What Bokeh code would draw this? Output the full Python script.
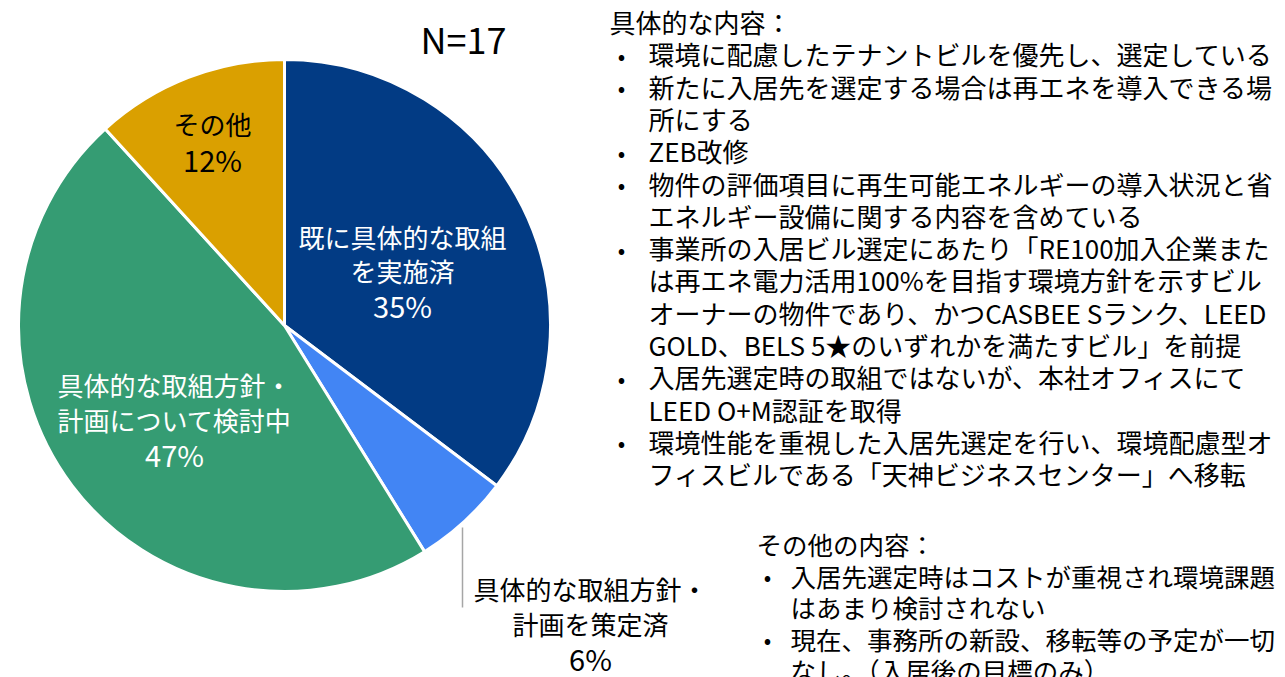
import math
from bokeh.plotting import figure
from bokeh.models import Range1d, ColumnDataSource
from bokeh.core.properties import value
from bokeh.embed import file_html
from bokeh.resources import INLINE

# ---- data ----
categories = ["既に具体的な取組を実施済", "具体的な取組方針・計画を策定済",
              "具体的な取組方針・計画について検討中", "その他"]
counts = [6, 1, 8, 2]
total_n = 17
colors = ["#023B84", "#4285F4", "#359C73", "#DAA000"]
slice_labels = [["既に具体的な取組", "を実施済"],
                ["具体的な取組方針・", "計画を策定済"],
                ["具体的な取組方針・", "計画について検討中"],
                ["その他"]]

detail_title = "具体的な内容："
detail_items = [
    ["環境に配慮したテナントビルを優先し、選定している"],
    ["新たに入居先を選定する場合は再エネを導入できる場", "所にする"],
    ["ZEB改修"],
    ["物件の評価項目に再生可能エネルギーの導入状況と省", "エネルギー設備に関する内容を含めている"],
    ["事業所の入居ビル選定にあたり「RE100加入企業また", "は再エネ電力活用100%を目指す環境方針を示すビル",
     "オーナーの物件であり、かつCASBEE Sランク、LEED", "GOLD、BELS 5★のいずれかを満たすビル」を前提"],
    ["入居先選定時の取組ではないが、本社オフィスにて", "LEED O+M認証を取得"],
    ["環境性能を重視した入居先選定を行い、環境配慮型オ", "フィスビルである「天神ビジネスセンター」へ移転"],
]
other_title = "その他の内容："
other_items = [
    ["入居先選定時はコストが重視され環境課題", "はあまり検討されない"],
    ["現在、事務所の新設、移転等の予定が一切", "なし。（入居後の目標のみ）"],
]

# ---- layout ----
W, H = 1285, 677
FONT = value("Noto Sans CJK JP")

def X(px):
    return px

def Y(py):
    return H - py

p = figure(width=W, height=H, output_backend="svg", toolbar_location=None,
           x_range=Range1d(0, W), y_range=Range1d(0, H), min_border=0)
p.axis.visible = False
p.grid.visible = False
p.outline_line_color = None
p.background_fill_color = "white"
p.border_fill_color = "white"

# pie
cx, cy, r = X(284), Y(325), 266
fracs = [c / total_n for c in counts]
starts, ends, cum = [], [], 0.0
for f in fracs:
    starts.append(math.pi / 2 - 2 * math.pi * (cum + f))
    ends.append(math.pi / 2 - 2 * math.pi * cum)
    cum += f
src = ColumnDataSource(dict(start=starts, end=ends, color=colors))
p.wedge(x=cx, y=cy, radius=r, radius_units="screen", start_angle="start", end_angle="end",
        fill_color="color", line_color="white", line_width=3, source=src)

pct = [f"{round(f * 100)}%" for f in fracs]

def label_block(lines, x_px, y0_px, step, color):
    ys = [Y(y0_px + i * step) for i in range(len(lines))]
    sizes = ["26px"] * (len(lines) - 1) + ["29px"]
    p.text(x=[X(x_px)] * len(lines), y=ys, text=lines, text_font=FONT,
           text_font_size=sizes, text_color=color, text_align="center",
           text_baseline="middle")

label_block(slice_labels[0] + [pct[0]], 402, 236, 34, "white")
label_block(slice_labels[1] + [pct[1]], 590, 588, 34.5, "black")
label_block(slice_labels[2] + [pct[2]], 174, 384, 34.5, "white")
label_block(slice_labels[3] + [pct[3]], 212, 123, 35, "black")

# leader line for small slice
p.line(x=[X(462), X(462)], y=[Y(527), Y(607)], line_color="#A6A6A6", line_width=1.5)

# N label
p.text(x=[X(463)], y=[Y(37)], text=[f"N={total_n}"], text_font=FONT, text_font_size="36px",
       text_color="black", text_align="center", text_baseline="middle")

def bullet_list(title, items, x_title, x_bullet, x_text, y0, step, size):
    p.text(x=[X(x_title)], y=[Y(y0)], text=[title], text_font=FONT, text_font_size=size,
           text_color="black", text_align="left", text_baseline="middle")
    row = 1
    bx, by, tx, ty, tt = [], [], [], [], []
    for item in items:
        bx.append(X(x_bullet))
        by.append(Y(y0 + row * step))
        for line in item:
            tx.append(X(x_text))
            ty.append(Y(y0 + row * step))
            tt.append(line)
            row += 1
    p.text(x=bx, y=by, text=["•"] * len(bx), text_font=FONT, text_font_size="22px",
           text_color="black", text_align="center", text_baseline="middle")
    p.text(x=tx, y=ty, text=tt, text_font=FONT, text_font_size=size,
           text_color="black", text_align="left", text_baseline="middle")

bullet_list(detail_title, detail_items, 609, 621, 648, 21, 32.3, "26px")
bullet_list(other_title, other_items, 756, 767, 790, 543, 31.5, "25.5px")

open("out.html", "w").write(file_html(p, INLINE))
